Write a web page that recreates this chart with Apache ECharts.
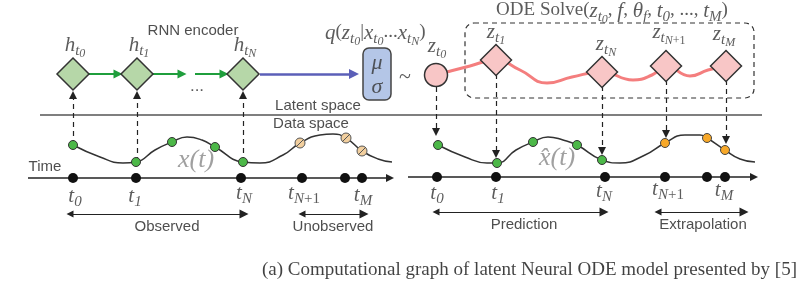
<!DOCTYPE html>
<html>
<head>
<meta charset="utf-8">
<script src="https://cdn.jsdelivr.net/npm/echarts@6/dist/echarts.min.js"></script>
<style>
  html, body { margin: 0; padding: 0; background: #fff; }
  #main { width: 804px; height: 286px; }
</style>
</head>
<body>
<div id="main"></div>
<script>
// diagram laid out on a pixel-like value grid (x 0..804, y 0..286 downwards)

// encoder states h_t0, h_t1, h_tN
const encoderX = [73, 137, 243];
const encoderY = 74;

// latent trajectory
const z0 = [436, 75];
const zNodes = [[496, 60], [602, 72], [666, 66], [726, 66]];
const zCurve = [[436, 75], [470, 66], [496, 60], [520, 70], [547, 83], [572, 77], [602, 72], [633, 80], [652, 75], [666, 66], [690, 76], [708, 70], [726, 66]];

// data-space curves
const xCurve = [[73, 145], [100, 157], [123, 163], [136, 162], [155, 150], [172, 142], [187, 137], [202, 140], [215, 147], [243, 162], [260, 163], [283, 155], [300, 143], [320, 135], [333, 134], [346, 138], [362, 151], [378, 159], [392, 162]];
const xObserved = [[73, 145], [136, 162], [172, 142], [215, 147], [243, 162]];
const xUnobserved = [[300, 143], [346, 138], [362, 151]];

const xhatCurve = [[438, 145], [465, 157], [487, 163], [497, 163], [516, 150], [533, 142], [548, 137], [563, 140], [577, 145], [602, 160], [620, 163], [645, 155], [665, 143], [685, 135], [700, 135], [707, 138], [725, 150], [740, 159], [755, 162]];
const xhatObserved = [[438, 145], [497, 163], [533, 142], [577, 145], [602, 160]];
const xhatExtrap = [[665, 143], [707, 138], [725, 150]];

// time axes
const leftTimes = [73, 136, 241, 302, 345, 362];
const rightTimes = [437, 496, 605, 665, 707, 725];
const leftAxisY = 178;
const rightAxisY = 177;

// math labels: [x, y, markup]
const mathLabels = [
  [75, 35, '{i|h}{s|t}{ss|0}'],
  [139, 35, '{i|h}{s|t}{ss|1}'],
  [245, 35, '{i|h}{s|t}{ss|N}'],
  [437, 36, '{i|z}{s|t}{ss|0}'],
  [496, 22, '{i|z}{s|t}{ss|1}'],
  [606, 34, '{i|z}{s|t}{ss|N}'],
  [669, 22, '{i|z}{s|t}{ss|N}{ssr|+1}'],
  [724, 24, '{i|z}{s|t}{ss|M}'],
  [75, 186, '{i|t}{s|0}'],
  [135, 186, '{i|t}{s|1}'],
  [244, 183, '{i|t}{s|N}'],
  [304, 183, '{i|t}{s|N}{sr|+1}'],
  [363, 185, '{i|t}{s|M}'],
  [437, 183, '{i|t}{s|0}'],
  [498, 183, '{i|t}{s|1}'],
  [604, 181, '{i|t}{s|N}'],
  [668, 179, '{i|t}{s|N}{sr|+1}'],
  [724, 180, '{i|t}{s|M}']
];

const textLabels = [
  [193, 31, 'RNN encoder'],
  [318, 106, 'Latent space'],
  [311, 124, 'Data space'],
  [45, 167, 'Time'],
  [167, 227, 'Observed'],
  [333, 227, 'Unobserved'],
  [524, 225, 'Prediction'],
  [703, 225, 'Extrapolation']
];

const caption = '(a) Computational graph of latent Neural ODE model presented by [5]';

const serif = 'Liberation Serif';
const sans = 'Liberation Sans';

const rich = {
  i: { fontFamily: serif, fontStyle: 'italic', fontSize: 21, verticalAlign: 'top', color: '#333' },
  r: { fontFamily: serif, fontSize: 19, verticalAlign: 'top', color: '#333' },
  s: { fontFamily: serif, fontStyle: 'italic', fontSize: 15, verticalAlign: 'top', padding: [9, 0, 0, 0], color: '#333' },
  sr: { fontFamily: serif, fontSize: 15, verticalAlign: 'top', padding: [9, 0, 0, 0], color: '#333' },
  ss: { fontFamily: serif, fontStyle: 'italic', fontSize: 12, verticalAlign: 'top', padding: [13, 0, 0, 0], color: '#333' },
  ssr: { fontFamily: serif, fontSize: 12, verticalAlign: 'top', padding: [13, 0, 0, 0], color: '#333' }
};

function textSeries(items, labelOpt) {
  return {
    type: 'scatter', symbolSize: 0, silent: true, z: 10,
    data: items.map(d => ({ value: [d[0], d[1]], label: { formatter: d[2] } })),
    label: Object.assign({ show: true, position: 'inside' }, labelOpt)
  };
}

function arrowSeries(coordsList, style, symbols, size) {
  return {
    type: 'lines', coordinateSystem: 'cartesian2d', silent: true,
    symbol: symbols, symbolSize: size,
    lineStyle: Object.assign({ opacity: 1, curveness: 0 }, style),
    z: style.z || 2,
    data: coordsList.map(c => ({ coords: c }))
  };
}

const chart = echarts.init(document.getElementById('main'), null, { renderer: 'canvas' });

const option = {
  animation: false,
  grid: { left: 0, right: 0, top: 0, bottom: 0 },
  xAxis: { type: 'value', min: 0, max: 804, show: false },
  yAxis: { type: 'value', min: 0, max: 286, inverse: true, show: false },
  series: [
    // latent / data separator
    arrowSeries([[[40, 115], [762, 115]]], { color: '#555', width: 1.5 }, ['none', 'none'], 0),
    // time axes
    arrowSeries([[[28, leftAxisY], [390, leftAxisY]], [[408, rightAxisY], [754, rightAxisY]]],
      { color: '#222', width: 1.5 }, ['none', 'triangle'], [8, 8]),
    // range arrows
    arrowSeries([[[70, 214], [244, 214]], [[302, 214], [364, 214]], [[436, 212], [604, 212]], [[658, 212], [744, 212]]],
      { color: '#222', width: 1.2 }, ['triangle', 'triangle'], [7, 9]),
    // encoding arrows (data -> h)
    arrowSeries(encoderX.map((x, i) => [[x, xObserved[[0, 1, 4][i]][1]], [x, 95]]),
      { color: '#222', width: 1.2, type: [5, 4] }, ['none', 'triangle'], [6, 8]),
    // decoding arrows (z -> data)
    arrowSeries([[[436, 87], [436, 132]], [[496, 74], [496, 154]], [[602, 86], [602, 151]], [[666, 80], [666, 134]], [[726, 80], [726, 140]]],
      { color: '#222', width: 1.2, type: [5, 4] }, ['none', 'triangle'], [6, 8]),
    // RNN arrows
    arrowSeries([[[89, encoderY], [118, encoderY]], [[153, encoderY], [182, encoderY]], [[195, encoderY], [224, encoderY]]],
      { color: '#1f9e3c', width: 2 }, ['none', 'triangle'], [8, 9]),
    // to posterior
    arrowSeries([[[260, encoderY], [354, encoderY]]], { color: '#5b5fb8', width: 2.5 }, ['none', 'triangle'], [8, 10]),
    // boxes
    {
      type: 'custom', silent: true, z: 1,
      data: [[465, 23, 754, 98, 0], [363, 48, 391, 100, 1]],
      renderItem: function (params, api) {
        const p1 = api.coord([api.value(0), api.value(1)]);
        const p2 = api.coord([api.value(2), api.value(3)]);
        const dashed = api.value(4) === 0;
        return {
          type: 'rect',
          shape: { x: p1[0], y: p1[1], width: p2[0] - p1[0], height: p2[1] - p1[1], r: dashed ? 9 : 6 },
          style: dashed
            ? { fill: 'none', stroke: '#333', lineWidth: 1.2, lineDash: [5, 4] }
            : { fill: '#b4c6e7', stroke: '#444', lineWidth: 1.5 }
        };
      }
    },
    // curves
    { type: 'line', data: xCurve, smooth: 0.5, showSymbol: false, silent: true, z: 3, lineStyle: { color: '#333', width: 1.5 } },
    { type: 'line', data: xhatCurve, smooth: 0.5, showSymbol: false, silent: true, z: 3, lineStyle: { color: '#333', width: 1.5 } },
    { type: 'line', data: zCurve, smooth: 0.5, showSymbol: false, silent: true, z: 3, lineStyle: { color: '#f47e7e', width: 3 } },
    // encoder diamonds
    {
      type: 'scatter', symbol: 'diamond', symbolSize: 32, silent: true, z: 5,
      data: encoderX.map(x => [x, encoderY]),
      itemStyle: { color: '#b6d7a8', borderColor: '#333', borderWidth: 1.5, opacity: 1 }
    },
    // latent diamonds
    {
      type: 'scatter', symbol: 'diamond', symbolSize: 31, silent: true, z: 5,
      data: zNodes,
      itemStyle: { color: '#f8c6c6', borderColor: '#333', borderWidth: 1.5, opacity: 1 }
    },
    {
      type: 'scatter', symbol: 'circle', symbolSize: 23, silent: true, z: 5,
      data: [z0],
      itemStyle: { color: '#f8c6c6', borderColor: '#333', borderWidth: 1.5, opacity: 1 }
    },
    // observed points
    {
      type: 'scatter', symbolSize: 9, silent: true, z: 6,
      data: xObserved.concat(xhatObserved),
      itemStyle: { color: '#4cb848', borderColor: '#333', borderWidth: 1, opacity: 1 }
    },
    {
      type: 'scatter', symbolSize: 9, silent: true, z: 6,
      data: xhatExtrap,
      itemStyle: { color: '#f7a829', borderColor: '#444', borderWidth: 1, opacity: 1 }
    },
    {
      type: 'scatter', symbolSize: 10, silent: true, z: 6,
      data: xUnobserved,
      itemStyle: { color: '#f2cf9e', borderColor: '#555', borderWidth: 1, opacity: 1 }
    },
    {
      type: 'scatter', symbol: 'path://M0,10 L10,0', symbolSize: 8, silent: true, z: 7,
      data: xUnobserved,
      itemStyle: { color: 'none', borderColor: '#555', borderWidth: 1, opacity: 1 }
    },
    // time dots
    {
      type: 'scatter', symbolSize: 10, silent: true, z: 6,
      data: leftTimes.map(x => [x, leftAxisY]).concat(rightTimes.map(x => [x, rightAxisY])),
      itemStyle: { color: '#111', opacity: 1 }
    },
    // labels
    textSeries(mathLabels, { rich: rich, align: 'center', verticalAlign: 'top', padding: 0 }),
    textSeries(textLabels, { fontFamily: sans, fontSize: 15, color: '#222' }),
    textSeries([
      [377, 63, '{i|μ}'], [377, 87, '{i|σ}']
    ], { rich: { i: { fontFamily: serif, fontStyle: 'italic', fontSize: 22, color: '#333' } } }),
    textSeries([[405, 77, '~']], { fontFamily: serif, fontSize: 22, color: '#333' }),
    textSeries([[197, 86, '...']], { fontFamily: sans, fontSize: 17, color: '#333' }),
    textSeries([[196, 160, 'x(t)'], [557, 158, 'x\u0302(t)']], { fontFamily: serif, fontStyle: 'italic', fontSize: 26, color: '#888' }),
    textSeries([[325, 23, '{i|q}{r|(}{i|z}{s|t}{ss|0}{r||}{i|x}{s|t}{ss|0}{r|...}{i|x}{s|t}{ss|N}{r|)}']],
      { rich: rich, align: 'left', verticalAlign: 'top', padding: 0 }),
    textSeries([[612, 1, '{r|ODE Solve(}{i|z}{s|t}{ss|0}{r|, }{i|f}{r|, }{i|θ}{s|f}{r|, }{i|t}{s|0}{r|, ..., }{i|t}{s|M}{r|)}']],
      { rich: rich, align: 'center', verticalAlign: 'top', padding: 0 }),
    textSeries([[262, 270, caption]], { fontFamily: serif, fontSize: 19, color: '#111', align: 'left' })
  ]
};

chart.setOption(option);
</script>
</body>
</html>
